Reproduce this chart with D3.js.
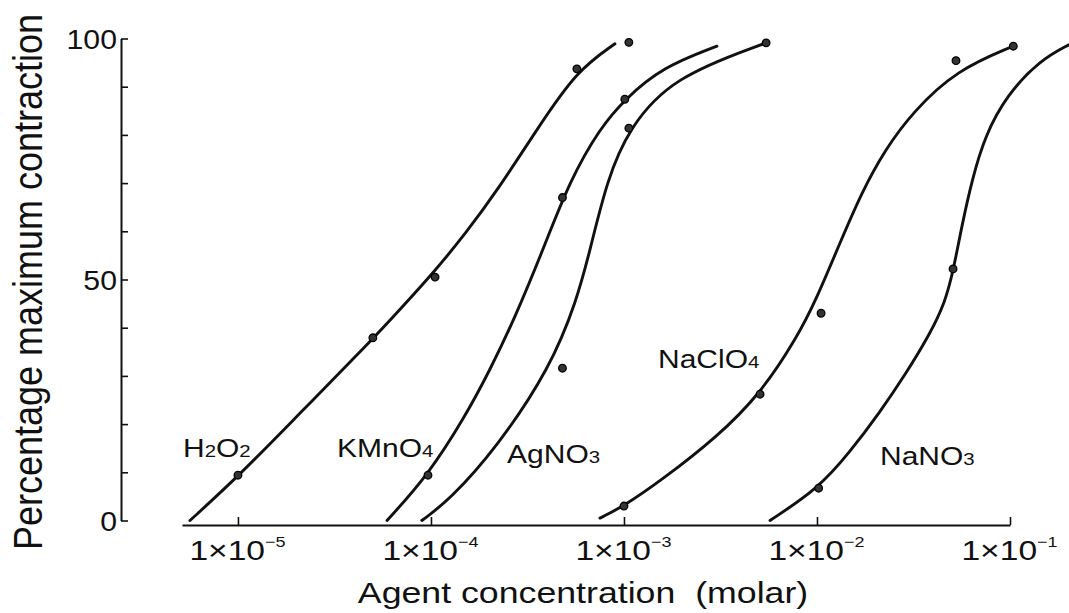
<!DOCTYPE html>
<html>
<head>
<meta charset="utf-8">
<script src="https://cdn.jsdelivr.net/npm/d3@7/dist/d3.min.js"></script>
<style>
    body { margin: 0; background: #fff; }
    svg { display: block; }
    text { font-family: 'Liberation Sans', Arial, sans-serif; fill: #111; white-space: pre; }
    .axis .domain { stroke: #111; stroke-width: 2; }
    .axis .tick line { stroke: #111; stroke-width: 1.6; }
    .curve { fill: none; stroke: #111; stroke-width: 2.9; stroke-linecap: round; }
    .pt { fill: #333; stroke: #000; stroke-width: 1.3; }
</style>
</head>
<body>
<div id="chart"><svg></svg></div>
<script>
// ---- data ----
const xTicks = [1e-5, 1e-4, 1e-3, 1e-2, 1e-1]
const xTickExp = ['\u22125', '\u22124', '\u22123', '\u22122', '\u22121']
const yTicks = [0, 10, 20, 30, 40, 50, 60, 70, 80, 90, 100]
const yLabels = [0, 50, 100]
const xAxisStart = 5.13e-6

const agents = ['H2O2', 'KMnO4', 'AgNO3', 'NaClO4', 'NaNO3']

// measured points (molar, % of max contraction)
const h2o2Conc = [1e-5, 5e-5, 1.05e-4, 5.7e-4, 1.06e-3]
const h2o2Pct = [9.4, 37.9, 50.5, 93.7, 99.2]
const kmno4Conc = [9.65e-5, 4.8e-4, 1.01e-3]
const kmno4Pct = [9.4, 67, 87.4]
const agno3Conc = [4.8e-4, 1.06e-3, 5.45e-3]
const agno3Pct = [31.6, 81.4, 99.1]
const naclo4Conc = [1e-3, 5.07e-3, 1.05e-2, 5.25e-2, 0.104]
const naclo4Pct = [3.0, 26.2, 43, 95.4, 98.4]
const nano3Conc = [1.02e-2, 5.07e-2]
const nano3Pct = [6.7, 52.2]

// hand-drawn fitted curves, traced
const h2o2CurveConc = [5.64e-6, 1.02e-5, 2.17e-5, 4.94e-5, 7.33e-5, 1.05e-4, 1.5e-4, 2.22e-4, 3.67e-4, 5.7e-4, 8.98e-4]
const h2o2CurvePct = [0, 9.4, 22.9, 37.4, 44.9, 51.8, 59.4, 68.6, 82.1, 93.3, 98.9]
const kmno4CurveConc = [5.92e-5, 9.65e-5, 1.5e-4, 2.02e-4, 2.72e-4, 3.8e-4, 5.25e-4, 7.51e-4, 1.01e-3, 1.59e-3, 3.03e-3]
const kmno4CurvePct = [0, 9.4, 21.5, 31.2, 42, 56.1, 70.6, 81.4, 87.4, 94.1, 98.4]
const agno3CurveConc = [8.97e-5, 1.25e-4, 2.2e-4, 4.14e-4, 5.7e-4, 6.67e-4, 8.17e-4, 1.06e-3, 1.79e-3, 5.45e-3]
const agno3CurvePct = [0, 4.3, 15.2, 31.6, 45.7, 56.1, 70.6, 81.4, 92, 99.1]
const naclo4CurveConc = [7.51e-4, 1e-3, 1.57e-3, 3.03e-3, 5.07e-3, 7.87e-3, 1e-2, 1.315e-2, 1.71e-2, 2.25e-2, 3.14e-2, 5.31e-2, 0.1037]
const naclo4CurvePct = [0.5, 3.0, 8.4, 17.3, 26.2, 37.9, 46.2, 57.6, 68.2, 76.9, 84.8, 93.5, 98.4]
const nano3CurveConc = [5.71e-3, 1.02e-2, 1.48e-2, 2.12e-2, 2.86e-2, 3.85e-2, 4.61e-2, 5.07e-2, 5.64e-2, 6.35e-2, 7.41e-2, 9.64e-2, 0.143, 0.202]
const nano3CurvePct = [0, 6.7, 14.2, 22.5, 30.2, 38.7, 45.3, 51.6, 61.3, 70.6, 79.8, 88.3, 95.5, 98.7]

// where each agent name sits (data units: left edge, baseline)
const labelConc = [5.19e-6, 3.26e-5, 2.48e-4, 1.5e-3, 2.12e-2]
const labelPct = [13.2, 13.2, 11.9, 31.6, 11.5]

// ---- layout ----
const W = 1069, H = 613
const X_RANGE = [182, 1010]
const Y_RANGE = [520.5, 38.5]
const AXIS_X = 121, AXIS_Y = 525
const STRETCH = 1.2   // the print is a little wide

const $svg = d3.select('#chart svg').attr('width', W).attr('height', H)

const xScale = d3.scaleLog().domain([xAxisStart, xTicks[xTicks.length - 1]]).range(X_RANGE)
const yScale = d3.scaleLinear().domain([0, 100]).range(Y_RANGE)

const zip = (xs, ys) => xs.map((x, i) => ({ conc: x, pct: ys[i] }))

const series = [
    { pts: zip(h2o2Conc, h2o2Pct), curve: zip(h2o2CurveConc, h2o2CurvePct) },
    { pts: zip(kmno4Conc, kmno4Pct), curve: zip(kmno4CurveConc, kmno4CurvePct) },
    { pts: zip(agno3Conc, agno3Pct), curve: zip(agno3CurveConc, agno3CurvePct) },
    { pts: zip(naclo4Conc, naclo4Pct), curve: zip(naclo4CurveConc, naclo4CurvePct) },
    { pts: zip(nano3Conc, nano3Pct), curve: zip(nano3CurveConc, nano3CurvePct) }
]

function drawAxes() {
    // y axis, ticks pointing inward
    const yAxis = $svg.append('g')
        .attr('class', 'axis y-axis')
        .attr('transform', `translate(${AXIS_X},0)`)
        .call(d3.axisLeft(yScale)
            .tickValues(yTicks)
            .tickSizeInner(-7)
            .tickSizeOuter(0)
            .tickFormat(() => ''))

    yAxis.selectAll('.tick')
        .filter(d => yLabels.includes(d))
        .append('text')
        .attr('text-anchor', 'end')
        .attr('dy', '0.36em')
        .attr('transform', 'translate(-4,0) scale(1.12,1)')
        .style('font-size', '27px')
        .text(d => d)

    // x axis, ticks pointing up
    const xAxis = $svg.append('g')
        .attr('class', 'axis x-axis')
        .attr('transform', `translate(0,${AXIS_Y})`)
        .call(d3.axisBottom(xScale)
            .tickValues(xTicks)
            .tickSizeInner(-8)
            .tickSizeOuter(0)
            .tickFormat(() => ''))

    const lbl = xAxis.selectAll('.tick')
        .append('text')
        .attr('text-anchor', 'middle')
        .attr('transform', `translate(-1,35) scale(${STRETCH},1)`)
        .style('font-size', '28px')
    lbl.append('tspan').text('1\u00d710')
    lbl.append('tspan')
        .attr('dy', -13)
        .style('font-size', '15px')
        .text((d, i) => xTickExp[i])

    // titles
    $svg.append('text')
        .attr('text-anchor', 'middle')
        .attr('transform', `translate(583,603) scale(1.19,1)`)
        .style('font-size', '30px')
        .text('Agent concentration  (molar)')

    $svg.append('text')
        .attr('text-anchor', 'middle')
        .attr('transform', `translate(42,282) scale(1.12,1) rotate(-90)`)
        .style('font-size', '36px')
        .text('Percentage maximum contraction')
}

function drawSeries() {
    // smooth through the traced points, the original was drawn with a french curve
    const lineGen = d3.line()
        .x(d => xScale(d.conc))
        .y(d => yScale(d.pct))
        .curve(d3.curveBasis)

    const g = $svg.append('g').attr('class', 'series')

    series.forEach((s, i) => {
        g.append('path')
            .datum(s.curve)
            .attr('class', 'curve')
            .attr('d', lineGen)

        g.selectAll(`.pt-${i}`)
            .data(s.pts)
            .join('circle')
            .attr('class', `pt pt-${i}`)
            .attr('cx', d => xScale(d.conc))
            .attr('cy', d => yScale(d.pct))
            .attr('r', 3.8)

        // name with small digits on the baseline
        const t = g.append('text')
            .attr('transform', `translate(${xScale(labelConc[i])},${yScale(labelPct[i])}) scale(${STRETCH},1)`)
            .style('font-size', '25px')
        agents[i].split(/(\d)/).filter(p => p).forEach(p => {
            t.append('tspan')
                .style('font-size', /\d/.test(p) ? '17px' : '25px')
                .text(p)
        })
    })
}

drawAxes()
drawSeries()
</script>
</body>
</html>
